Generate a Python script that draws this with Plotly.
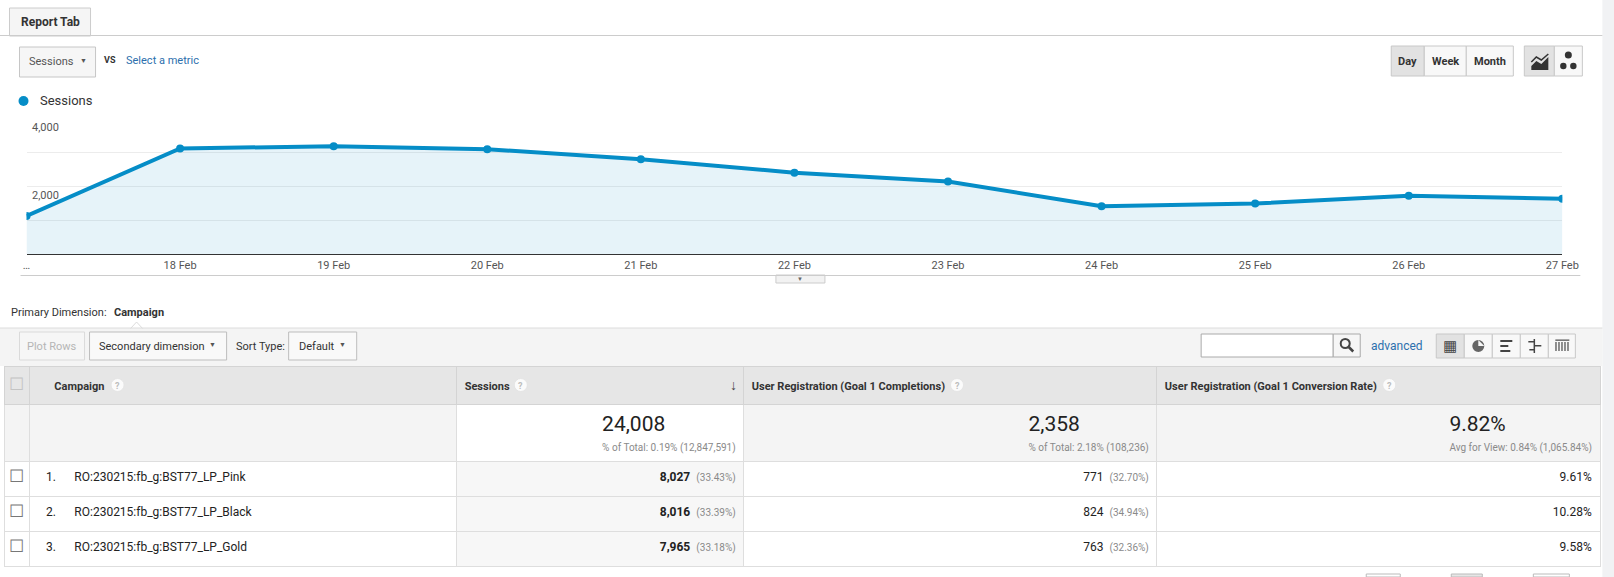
import plotly.graph_objects as go

H = 577
FW = 1632                 # figure width; the page is captured slightly squeezed
SQ, OFF = 0.9866, 4.5     # measured squeeze of the capture (x only)
FONT = "Roboto, Arial, sans-serif"
BLUE = "#058dc7"
LINK = "#2c6fad"

# chart data
dates = ["…", "18 Feb", "19 Feb", "20 Feb", "21 Feb", "22 Feb", "23 Feb",
         "24 Feb", "25 Feb", "26 Feb", "27 Feb"]
sessions = [1118, 3102, 3172, 3084, 2787, 2392, 2134, 1404, 1482, 1710, 1623]
y_grid = [1000, 2000, 3000, 4000]
y_labels = [2000, 4000]

# table data
campaigns = ["RO:230215:fb_g:BST77_LP_Pink", "RO:230215:fb_g:BST77_LP_Black",
             "RO:230215:fb_g:BST77_LP_Gold"]
camp_sessions = [8027, 8016, 7965]
camp_sessions_pct = ["33.43%", "33.39%", "33.18%"]
completions = [771, 824, 763]
completions_pct = ["32.70%", "34.94%", "32.36%"]
conv_rate = ["9.61%", "10.28%", "9.58%"]
total_sessions, total_sessions_note = 24008, "% of Total: 0.19% (12,847,591)"
total_compl, total_compl_note = 2358, "% of Total: 2.18% (108,236)"
total_rate, total_rate_note = "9.82%", "Avg for View: 0.84% (1,065.84%)"
headers = ["Campaign", "Sessions", "User Registration (Goal 1 Completions)",
           "User Registration (Goal 1 Conversion Rate)"]
help_icon_x = [118, 521, 957, 1389]
col_edges = [30, 457, 744, 1157, 1600]


def fx(x):
    return (x - OFF) / SQ


def px(x):
    return fx(x) / FW


def py(y):
    return 1 - y / H


shapes = []
annots = []


def rect(x0, y0, x1, y1, fill, line=None, lw=1, layer="below"):
    shapes.append(dict(type="rect", xref="paper", yref="paper",
                       x0=px(x0), x1=px(x1), y0=py(y1), y1=py(y0),
                       fillcolor=fill, layer=layer,
                       line=dict(color=line or fill, width=lw if line else 0)))


def hline(x0, x1, y, color="#ccc", lw=1):
    shapes.append(dict(type="line", xref="paper", yref="paper",
                       x0=px(x0), x1=px(x1), y0=py(y), y1=py(y),
                       line=dict(color=color, width=lw)))


def path(pts, fill="#333", line=None, lw=0, closed=True):
    d = "M " + " L ".join(f"{px(a):.5f},{py(b):.5f}" for a, b in pts)
    if closed:
        d += " Z"
    shapes.append(dict(type="path", xref="paper", yref="paper", path=d,
                       fillcolor=fill if closed else None,
                       line=dict(color=line or fill, width=lw)))


def circle(cx, cy, r, fill="#333", line=None, lw=0, layer="above"):
    shapes.append(dict(type="circle", xref="paper", yref="paper", layer=layer,
                       x0=px(cx - r), x1=px(cx + r), y0=py(cy + r), y1=py(cy - r),
                       fillcolor=fill, line=dict(color=line or fill, width=lw)))


def text(x, y, s, size=11, color="#333", anchor="left"):
    annots.append(dict(xref="paper", yref="paper", x=px(x), y=py(y), text=s,
                       showarrow=False, xanchor=anchor, yanchor="middle",
                       font=dict(size=size, color=color, family=FONT)))


# page chrome
rect(1602, 0, 1620, 577, "#f1f2f4")
hline(-5, 1602, 35.5)
rect(10, 8, 91, 36, "#f5f5f5", "#ccc")
text(50.5, 22, "<b>Report Tab</b>", 12, "#333", "center")

rect(20, 47, 96, 77, "#f6f6f6", "#c6c6c6")
text(27, 62, "Sessions", 11, "#555")
text(84, 61, "▼", 7, "#555", "center")
text(102, 60, "<b>VS</b>", 9, "#333")
text(124, 60, "Select a metric", 11, LINK)

for x0, x1, lab, sel in [(1391, 1424, "Day", True), (1424, 1466, "Week", False),
                         (1466, 1513, "Month", False)]:
    rect(x0, 46, x1, 76, "#e2e2e2" if sel else "#f8f8f8", "#c8c8c8")
    text((x0 + x1) / 2, 61, f"<b>{lab}</b>", 11, "#333", "center")
rect(1524, 46, 1554, 76, "#e2e2e2", "#c8c8c8")
rect(1554, 46, 1582, 76, "#f8f8f8", "#c8c8c8")
path([(1531, 70), (1531, 66), (1536, 61), (1541, 64), (1548, 57), (1548, 70)], "#333")
path([(1531, 62), (1536, 57), (1541, 60), (1548, 54)], line="#333", lw=1.5, closed=False)
circle(1568, 55, 3.5)
circle(1563, 66, 3.2)
circle(1573, 66, 3.2)

circle(24, 101, 5, BLUE)
text(38, 101, "Sessions", 13, "#333")

hline(21, 1580, 275.5)
rect(776, 275, 825, 283, "#f2f2f2", "#ccc")
text(800.5, 279, "▼", 6, "#666", "center")

# primary dimension + toolbar
text(9, 312, "Primary Dimension:", 11, "#333")
text(112, 312, "<b>Campaign</b>", 11, "#333")
rect(-5, 328, 1602, 366, "#f4f4f4")
hline(-5, 1602, 328, "#dcdcdc")
path([(131, 328.5), (137, 322), (143, 328.5)], "#ffffff", "#dcdcdc", 1, closed=False)

rect(20, 332, 85, 360, "#f6f6f6", "#dadada")
text(52.5, 346, "Plot Rows", 11, "#b5b5b5", "center")
rect(90, 332, 227, 360, "#f9f9f9", "#bdbdbd")
text(97, 346, "Secondary dimension", 11, "#333")
text(213, 345, "▼", 7, "#555", "center")
text(234, 346, "Sort Type:", 11, "#333")
rect(289, 332, 357, 360, "#f9f9f9", "#bdbdbd")
text(297, 346, "Default", 11, "#333")
text(343, 345, "▼", 7, "#555", "center")

rect(1201, 334, 1333, 357, "#ffffff", "#aaa")
rect(1333, 334, 1360, 357, "#f6f6f6", "#aaa")
circle(1345, 343.5, 4.5, "rgba(0,0,0,0)", "#444", 2)
shapes.append(dict(type="line", xref="paper", yref="paper", x0=px(1348.5), y0=py(347),
                   x1=px(1353), y1=py(351.5), line=dict(color="#444", width=2.5)))
text(1369, 346, "advanced", 12, LINK)

bx = [1436, 1464, 1492, 1520, 1548, 1575]
for i in range(5):
    rect(bx[i], 334, bx[i + 1], 358, "#e2e2e2" if i == 0 else "#f8f8f8", "#c8c8c8")
text(1450, 346, "▦", 15, "#444", "center")
circle(1478, 346, 6, "#666")
path([(1478, 346), (1478, 340), (1484, 346)], "#f8f8f8")
for j, w in enumerate([12, 8, 10]):
    rect(1500, 340 + j * 5, 1500 + w, 342 + j * 5, "#444", layer="above")
shapes.append(dict(type="line", xref="paper", yref="paper", x0=px(1534), x1=px(1534),
                   y0=py(339), y1=py(353), line=dict(color="#444", width=1.5)))
for j, (a, b) in enumerate([(1528, 1534), (1534, 1541), (1529, 1534)]):
    rect(a, 341 + j * 4, b, 342.5 + j * 4, "#444", layer="above")
for j in range(5):
    rect(1555 + j * 3, 342, 1556.3 + j * 3, 351, "#555", layer="above")
rect(1555, 339.5, 1569, 340.8, "#555", layer="above")

# pagination peeking in at the bottom
for x0, x1, f in [(1366, 1400, "#fff"), (1451, 1482, "#e6e6e6"), (1533, 1569, "#fff")]:
    rect(x0, 574, x1, 577, f, "#bbb")

# chart
fig = go.Figure()
fig.add_trace(go.Scatter(
    x=dates, y=sessions, mode="lines+markers", fill="tozeroy",
    fillcolor="rgba(5,141,199,0.1)",
    line=dict(color=BLUE, width=4), marker=dict(color=BLUE, size=8),
    hoverinfo="x+y", showlegend=False))

for v in y_labels:
    annots.append(dict(xref="paper", yref="y", x=px(30), y=v, yshift=-1,
                       text=f"{v:,}", showarrow=False, xanchor="left", yanchor="top",
                       font=dict(size=11, color="#555", family=FONT)))

# table (a trailing <br> keeps plotly from re-wrapping the styled cells)
BR = "<br>"
PAD = "\u2009"  # base-size space: lowers the first line a little
sub = "<span style='font-size:10px;color:#8a8a8a'>{}</span>"
hsp = "<span style='font-size:11px'>{}</span>"
head = ["☐" + BR, hsp.format("\u2003\u2002<b>" + headers[0] + "</b>") + PAD + BR] + \
       [hsp.format("<b>" + h + "</b>") + PAD + BR for h in headers[1:]]

cs = "<span style='font-size:12px'>{}</span>"
col0 = [""] + ["☐"] * len(campaigns)
col1 = [""] + [cs.format(f"\u2002\u2009{i + 1}.\u2003\u2002{c}") + BR
               for i, c in enumerate(campaigns)]
big = "<span style='font-size:21px'>{}</span>"
col2 = [big.format(f"{total_sessions:,}") + BR + sub.format(total_sessions_note)] + \
       [cs.format(f"<b>{v:,}</b>\u2002") + sub.format(f"({p})") + BR
        for v, p in zip(camp_sessions, camp_sessions_pct)]
col3 = [big.format(f"{total_compl:,}") + BR + sub.format(total_compl_note)] + \
       [cs.format(f"{v:,}\u2002") + sub.format(f"({p})") + BR
        for v, p in zip(completions, completions_pct)]
col4 = [big.format(total_rate) + BR + sub.format(total_rate_note)] + \
       [cs.format(r) + BR for r in conv_rate]

TOT = "#f4f4f4"
fills = [
    [TOT] + ["#ffffff"] * 3,
    [TOT] + ["#ffffff"] * 3,
    ["#ffffff"] + ["#f7f7f7"] * 3,
    [TOT] + ["#ffffff"] * 3,
    [TOT] + ["#ffffff"] * 3,
]
edges = [0.0] + [fx(e) for e in col_edges]
widths = [b - a for a, b in zip(edges[:-1], edges[1:])]

fig.add_trace(go.Table(
    domain=dict(x=[0, min(1.0, edges[-1] / FW)], y=[0, py(366)]),
    columnwidth=widths,
    header=dict(values=head, height=38, fill_color="#e6e6e6",
                line=dict(color="#d4d4d4", width=1),
                align=["center", "left", "left", "left", "left"],
                font=dict(family=FONT, size=[17, 17, 17, 17, 17],
                          color=["#c4c4c4", "#333", "#333", "#333", "#333"])),
    cells=dict(values=[col0, col1, col2, col3, col4], height=35,
               fill_color=fills, line=dict(color="#dedede", width=1),
               align=["center", "left", "right", "right", "right"],
               font=dict(family=FONT, size=[17, 17, 15, 15, 15],
                         color=["#777", "#222", "#222", "#222", "#222"])),
))

# header help icons and the sort arrow
for hx in help_icon_x:
    circle(hx, 385, 6.5, "#fbfbfb", "#e2e2e2", 0.8)
    text(hx, 385.5, "<b>?</b>", 9, "#bdbdbd", "center")
text(739, 385, "↓", 14, "#444", "right")

fig.update_layout(
    width=FW, height=H, margin=dict(l=0, r=0, t=0, b=0),
    paper_bgcolor="#ffffff", plot_bgcolor="rgba(0,0,0,0)",
    font=dict(family=FONT, size=11, color="#333"),
    shapes=shapes, annotations=annots, showlegend=False,
    xaxis=dict(domain=[px(27), px(1562)], range=[0, len(dates) - 1],
               type="category", showgrid=False, zeroline=False,
               showline=True, linecolor="#333", linewidth=1,
               ticks="outside", ticklen=1, tickcolor="rgba(0,0,0,0)",
               tickfont=dict(size=11, color="#555", family=FONT),
               fixedrange=True),
    yaxis=dict(domain=[py(254), py(118)], range=[0, 4000],
               tickvals=y_grid, showticklabels=False,
               gridcolor="#ececec", gridwidth=1, zeroline=False,
               showline=False, fixedrange=True),
)

fig.write_html("out.html", config={"displayModeBar": False},
               post_script="document.documentElement.style.overflow='hidden';"
                           "document.body.style.margin='0';"
                           "document.body.style.overflow='hidden';")
